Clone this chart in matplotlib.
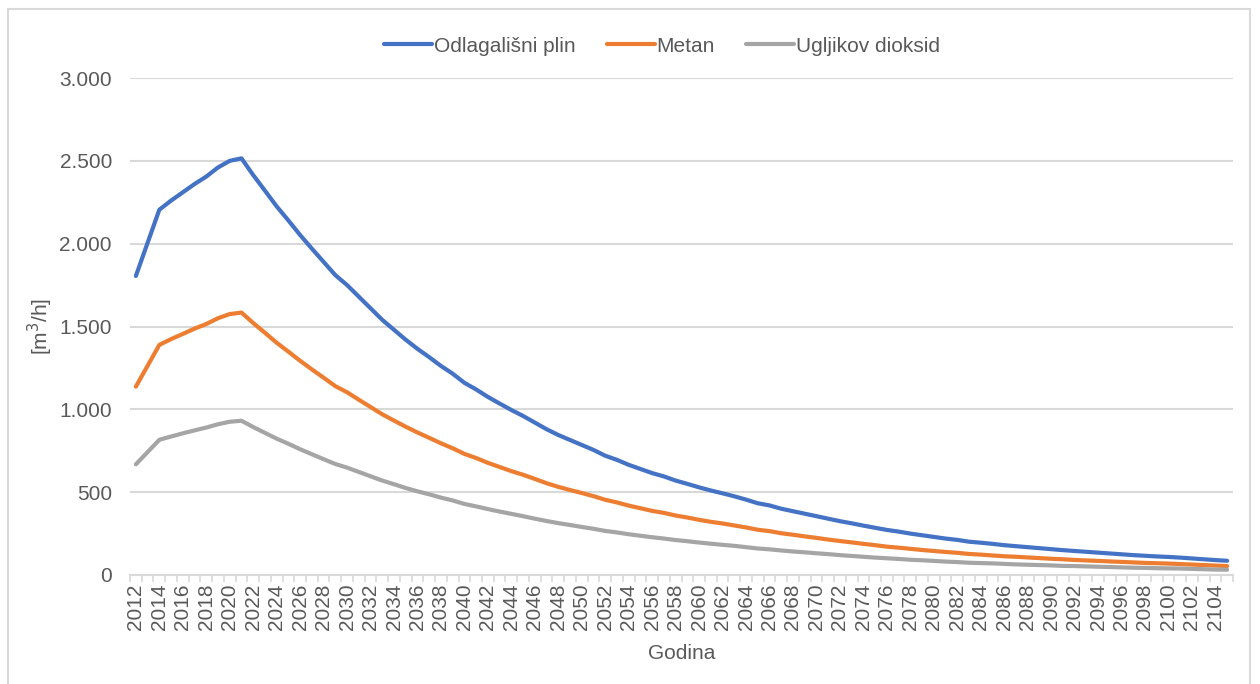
import numpy as np
import matplotlib.pyplot as plt
from matplotlib.patches import Rectangle
from matplotlib.ticker import FuncFormatter

# Years on the category axis
years = list(range(2012, 2106))

# Landfill gas, methane and CO2 flows [m3/h]
odlagalisni_plin = [1805, 2005, 2205, 2260, 2310, 2360, 2405, 2460, 2500, 2515,
                    2414, 2320, 2225, 2140, 2052, 1970, 1890, 1810, 1750, 1680,
                    1610, 1540, 1480, 1420, 1365, 1315, 1262, 1215, 1160, 1120,
                    1075, 1035, 996, 960, 920, 880, 845, 815, 785, 755,
                    720, 695, 665, 640, 615, 595, 570, 550, 529, 510,
                    493, 475, 455, 433, 420, 400, 385, 370, 355, 340,
                    325, 312, 298, 285, 272, 262, 250, 240, 230, 220,
                    212, 201, 195, 188, 180, 174, 168, 162, 156, 150,
                    145, 140, 135, 130, 125, 120, 116, 112, 109, 105,
                    100, 95, 90, 86]
metan = [1137, 1263, 1389, 1424, 1455, 1487, 1515, 1550, 1575, 1584,
         1521, 1462, 1402, 1348, 1293, 1241, 1191, 1140, 1103, 1058,
         1014, 970, 932, 895, 860, 828, 795, 765, 731, 706,
         677, 652, 627, 605, 580, 554, 532, 513, 495, 476,
         454, 438, 419, 403, 387, 375, 359, 347, 333, 321,
         311, 299, 287, 273, 265, 252, 243, 233, 224, 214,
         205, 197, 188, 180, 171, 165, 158, 151, 145, 139,
         134, 127, 123, 118, 113, 110, 106, 102, 98, 95,
         91, 88, 85, 82, 79, 76, 73, 71, 69, 66,
         63, 60, 57, 54]
ugljikov_dioksid = [668, 742, 816, 836, 855, 873, 890, 910, 925, 931,
                    893, 858, 823, 792, 759, 729, 699, 670, 648, 622,
                    596, 570, 548, 525, 505, 487, 467, 450, 429, 414,
                    398, 383, 369, 355, 340, 326, 313, 302, 290, 279,
                    266, 257, 246, 237, 228, 220, 211, 204, 196, 189,
                    182, 176, 168, 160, 155, 148, 142, 137, 131, 126,
                    120, 115, 110, 105, 101, 97, 92, 89, 85, 81,
                    78, 74, 72, 70, 67, 64, 62, 60, 58, 55,
                    54, 52, 50, 48, 46, 44, 43, 41, 40, 39,
                    37, 35, 33, 32]

plt.rcParams['font.family'] = ['Liberation Sans', 'DejaVu Sans']
txt = '#595959'
light = '#d9d9d9'
fs = 15

fig = plt.figure(figsize=(12.6, 6.84), dpi=100)
ax = fig.add_axes([130 / 1260, 1 - 575 / 684, 1103 / 1260, 497 / 684])

# outer chart border
fig.patches.append(Rectangle((8 / 1260, -0.02), 1242 / 1260, 1.02 - 9 / 684,
                             transform=fig.transFigure, fill=False,
                             edgecolor=light, linewidth=1.5))

x = np.arange(len(years))
ax.plot(x, odlagalisni_plin, color='#4472C4', lw=3, label='Odlagališni plin', solid_capstyle='round')
ax.plot(x, metan, color='#ED7D31', lw=3, label='Metan', solid_capstyle='round')
ax.plot(x, ugljikov_dioksid, color='#A5A5A5', lw=3, label='Ugljikov dioksid', solid_capstyle='round')

ax.set_xlim(-0.5, len(years) - 0.5)
ax.set_ylim(0, 3000)
ax.set_yticks(range(0, 3001, 500))
ax.yaxis.set_major_formatter(FuncFormatter(lambda v, p: f'{int(v):,}'.replace(',', '.')))
ax.grid(axis='y', color=light, lw=1.5)
ax.set_axisbelow(True)

ax.set_xticks(x[::2])
ax.set_xticklabels([str(y) for y in years[::2]], rotation=90)
ax.set_xticks(np.arange(len(years) + 1) - 0.5, minor=True)
ax.tick_params(axis='x', which='major', length=0, pad=6, labelsize=fs, labelcolor=txt)
ax.tick_params(axis='x', which='minor', length=5, color=light, width=1.2)
ax.tick_params(axis='y', length=0, pad=13, labelsize=fs, labelcolor=txt)

for s in ['top', 'right', 'left']:
    ax.spines[s].set_visible(False)
ax.spines['bottom'].set_color(light)
ax.spines['bottom'].set_linewidth(1.5)

ax.set_xlabel('Godina', fontsize=fs, color=txt, labelpad=10)
ax.set_ylabel('[m$^3$/h]', fontsize=fs, color=txt, labelpad=3)

leg = ax.legend(loc='center', bbox_to_anchor=(662 / 1260, 1 - 46 / 684), bbox_transform=fig.transFigure,
                ncol=3, frameon=False, fontsize=fs, handlelength=2.3, handletextpad=0.1,
                columnspacing=1.5)
for t in leg.get_texts():
    t.set_color(txt)

plt.savefig('out.png', dpi=100)
